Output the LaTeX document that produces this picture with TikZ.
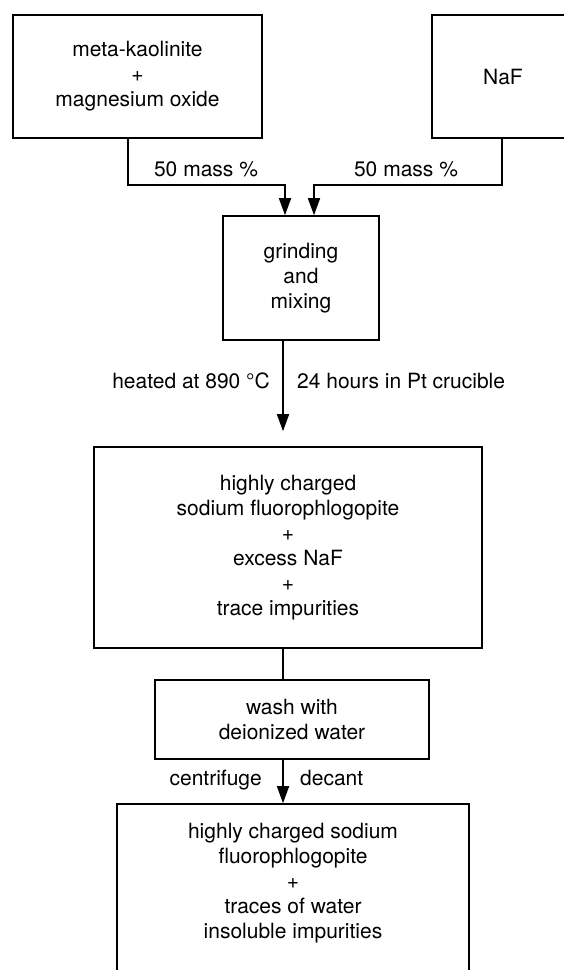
\documentclass[tikz,border=0pt]{standalone}
\usepackage{fontspec}
\setmainfont{TeX Gyre Heros}
\usetikzlibrary{arrows.meta}

\tikzset{
    box/.style={draw, line width=1.6pt, align=center, inner sep=0pt},
    flow/.style={line width=1.6pt},
    into/.style={flow, -{Triangle[length=17pt,width=12pt]}},
    lbl/.style={inner sep=0pt}
}

\begin{document}
\begin{tikzpicture}[x=1pt, y=-1pt, font=\fontsize{21}{25}\selectfont]
    \useasboundingbox (0,0) rectangle (564,970);
    \clip (0,0) rectangle (564,970);
    % starting materials
    \node[box, minimum width=249pt, minimum height=123pt] (kaol) at (137.5,76.5) {meta-kaolinite\\+\\magnesium oxide};
    \node[box, minimum width=142pt, minimum height=123pt] (naf) at (503,76.5) {NaF};
    \node[box, minimum width=156pt, minimum height=124pt] (grind) at (301,278) {grinding\\and\\mixing};
    % products
    \node[box, minimum width=388pt, minimum height=201pt] (prod) at (288,547.5) {highly charged\\sodium fluorophlogopite\\+\\excess NaF\\+\\trace impurities};
    \node[box, minimum width=274pt, minimum height=79pt] (wash) at (292,719.5) {wash with\\deionized water};
    \node[box, minimum width=352pt, minimum height=196pt] (clean) at (293,902) {};
    \node[lbl, align=center, anchor=north] (cleantxt) at (293,823) {highly charged sodium\\fluorophlogopite\\+\\traces of water\\insoluble impurities};

    \coordinate (kdrop) at (128,185);
    \coordinate (ndrop) at (502,185);
    \coordinate (kin) at (285,0);
    \coordinate (nin) at (314,0);
    \coordinate (axis) at (283,0);

    \draw[into] (kaol.south -| kdrop) -- (kdrop) -| (grind.north -| kin);
    \draw[into] (naf.south -| ndrop) -- (ndrop) -| (grind.north -| nin);
    \draw[into, shorten >=15pt] (grind.south -| axis) -- (prod.north -| axis);
    \draw[flow] (prod.south -| axis) -- (wash.north -| axis);
    \draw[into] (wash.south -| axis) -- (clean.north -| axis);

    % labels on the connectors
    \node[lbl, anchor=base] (mass1) at (206,176) {50 mass \%};
    \node[lbl, anchor=base] (mass2) at (406,176) {50 mass \%};
    \node[lbl, anchor=base east] (heat) at (270,388) {heated at 890 °C};
    \node[lbl, anchor=base west] (time) at (297,388) {24 hours in Pt crucible};
    \node[lbl, anchor=base east] (cent) at (262,785) {centrifuge};
    \node[lbl, anchor=base west] (dec) at (300,785) {decant};
\end{tikzpicture}
\end{document}
